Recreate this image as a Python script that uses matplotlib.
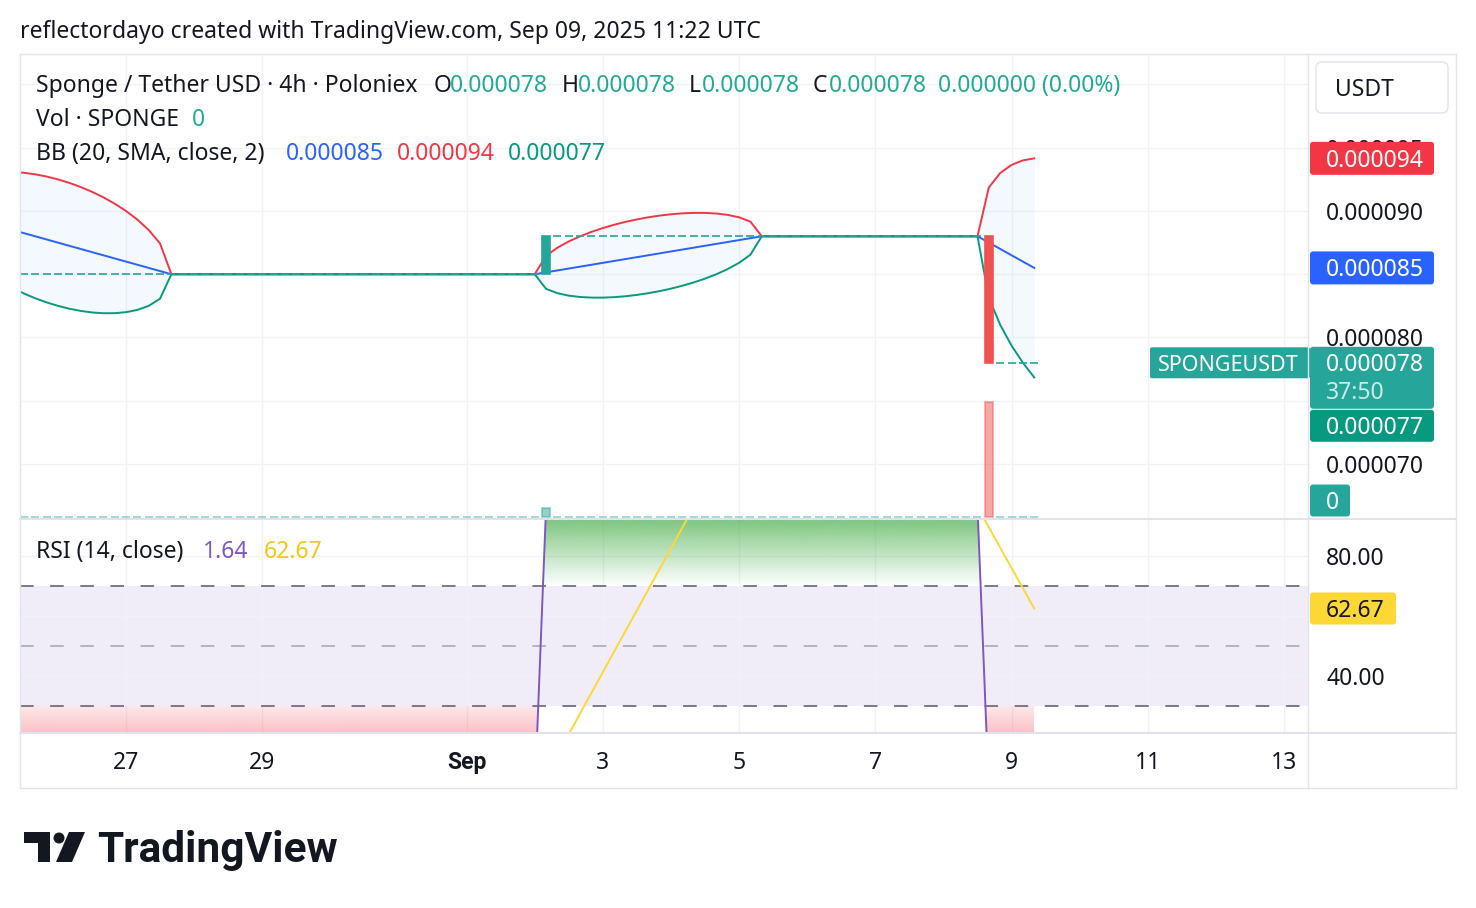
import numpy as np
import pandas as pd
import matplotlib
matplotlib.use("Agg")
import matplotlib.pyplot as plt
import matplotlib.dates as mdates
from matplotlib.patches import FancyBboxPatch, Polygon, Circle
from matplotlib.transforms import IdentityTransform
from matplotlib.lines import Line2D

plt.rcParams['font.family'] = ['Noto Sans', 'DejaVu Sans']

# ---------------- data ----------------
bar_first = '2025-08-20 00:00'          # first 4h bar used (history before the visible window)
bar_last = '2025-09-09 08:00'           # last 4h bar
# price regimes: each entry starts a new flat level (the first bar of a regime moves from the previous close)
regime_start = ['2025-08-20 00:00', '2025-08-21 00:00', '2025-08-24 12:00', '2025-09-02 04:00', '2025-09-08 16:00']
regime_close = [0.000092, 0.000090, 0.000085, 0.000088, 0.000078]
# traded volume (all other bars have zero volume)
volume_time = ['2025-08-21 00:00', '2025-08-24 12:00', '2025-09-02 04:00', '2025-09-08 16:00']
volume_value = [3000, 6000, 1000, 12800]

price_ticks = [0.000070, 0.000075, 0.000080, 0.000085, 0.000090, 0.000095, 0.000100]
price_tick_labels = ['0.000070', '', '0.000080', '', '0.000090', '0.000095', '']   # others hidden under labels
rsi_ticks = [40, 60, 80]
rsi_tick_labels = ['40.00', '', '80.00']
date_ticks = ['2025-08-27', '2025-08-29', '2025-09-01', '2025-09-03', '2025-09-05',
              '2025-09-07', '2025-09-09', '2025-09-11', '2025-09-13']
date_labels = ['27', '29', 'Sep', '3', '5', '7', '9', '11', '13']

title = 'reflectordayo created with TradingView.com, Sep 09, 2025 11:22 UTC'
symbol = 'Sponge / Tether USD · 4h · Poloniex'
ohlc_text = ['0.000078', '0.000078', '0.000078', '0.000078']
change_text = '0.000000 (0.00%)'
vol_text = '0'
bb_text = ['0.000085', '0.000094', '0.000077']
rsi_text = ['1.64', '62.67']
last_price_text = '0.000078'
countdown_text = '37:50'

# ---------------- build series ----------------
times = pd.date_range(bar_first, bar_last, freq='4h')
starts = pd.to_datetime(regime_start)
idx = np.searchsorted(starts.values, times.values, side='right') - 1
closes = np.array(regime_close)[idx]
opens = np.concatenate([[closes[0]], closes[:-1]])
vols = np.zeros(len(times))
for t, v in zip(pd.to_datetime(volume_time), volume_value):
    vols[times.get_loc(t)] = v
x = mdates.date2num(times.to_pydatetime())

c = pd.Series(closes)
basis = c.rolling(20).mean().values
dev = c.rolling(20).std(ddof=0).values
upper = basis + 2 * dev
lower = basis - 2 * dev

delta = c.diff().fillna(0.0)
up = delta.clip(lower=0).ewm(alpha=1 / 14, adjust=False).mean().values
dn = (-delta.clip(upper=0)).ewm(alpha=1 / 14, adjust=False).mean().values
with np.errstate(divide='ignore', invalid='ignore'):
    rsi = np.where(dn == 0, 100.0, np.where(up == 0, 0.0, 100 - 100 / (1 + up / dn)))
rsi[:14] = np.nan
rsi_ma = pd.Series(rsi).rolling(14).mean().values

# ---------------- figure / layout ----------------
W, H = 1476, 908
fig = plt.figure(figsize=(W / 100, H / 100), dpi=100, facecolor='white')
FS = 16.5
DARK = '#131722'
TEAL = '#22ab94'
UPC = '#26a69a'
DNC = '#ef5350'
GRID = '#f0f2f6'
BORDER = '#e0e3eb'

def rect(px0, py0, px1, py1):
    return [px0 / W, (H - py1) / H, (px1 - px0) / W, (py1 - py0) / H]

ax_v = fig.add_axes(rect(20, 54, 1308, 518))
ax = fig.add_axes(rect(20, 54, 1308, 518))
ax_r = fig.add_axes(rect(20, 519, 1308, 733))
ax.set_facecolor('none')
ax_v.set_facecolor('white')

d0 = mdates.date2num(pd.Timestamp('2025-08-27'))
xl = (d0 - 1.556, d0 + 17.352)
tick_x = mdates.date2num(pd.to_datetime(date_ticks).to_pydatetime())
for a in (ax, ax_v, ax_r):
    a.set_xlim(*xl)
    for s in a.spines.values():
        s.set_visible(False)

# main price pane limits
ax.set_ylim(0.00006573, 0.00010241)

# grid of the price pane (drawn in the bottom layer, under the volume bars)
ax_v.set_xticks(tick_x)
ax_v.set_yticks([])
ax_v.tick_params(axis='x', length=0, labelbottom=False)
ax_v.grid(True, axis='x', color=GRID, lw=1.0, zorder=0)
ax_v.set_axisbelow(True)
for v in price_ticks:
    ax_v.add_line(Line2D([xl[0], xl[1]], [v, v], transform=ax.transData, color=GRID, lw=1.0, zorder=0))

# volume
vmax = max(volume_value)
ax_v.set_ylim(-vmax * 1.5 / 115, vmax * 462.5 / 115)
vcol = [UPC if cl >= op else DNC for op, cl in zip(opens, closes)]
bw = 8 / 68.12
ax_v.bar(x, vols, width=bw, color=vcol, edgecolor=vcol, linewidth=1.2, alpha=0.5, zorder=2)

# price pane content
ax.fill_between(x, lower, upper, color='#2196f3', alpha=0.05, linewidth=0, zorder=1)
ax.plot(x, basis, color='#2962ff', lw=1.4, zorder=2)
ax.plot(x, upper, color='#f23645', lw=1.4, zorder=2)
ax.plot(x, lower, color='#089981', lw=1.4, zorder=2)
ccol = [UPC if cl >= op else DNC for op, cl in zip(opens, closes)]
ax.bar(x, closes - opens, bottom=opens, width=bw, color=ccol, edgecolor=ccol, linewidth=1.2, zorder=3)

ax.set_yticks(price_ticks)
ax.set_yticklabels(price_tick_labels)
ax.yaxis.tick_right()
ax.tick_params(axis='y', length=0, pad=13, labelsize=FS, labelcolor=DARK)
ax.set_xticks(tick_x)
ax.tick_params(axis='x', length=0, labelbottom=False)
ax.grid(False)

# RSI pane
ax_r.set_ylim(21.0, 92.33)
ax_r.axhspan(30, 70, color='#7e57c2', alpha=0.1, lw=0, zorder=0.5)
ax_r.axhline(70, color='#787b86', lw=1.4, dashes=(7, 8.5), zorder=1)
ax_r.axhline(30, color='#787b86', lw=1.4, dashes=(7, 8.5), zorder=1)
ax_r.axhline(50, color='#787b86', alpha=0.5, lw=1.4, dashes=(7, 8.5), zorder=1)

def gradient_fill(a, base, lo, hi, a_lo, a_hi, rgb, where):
    coll = a.fill_between(x, base, np.nan_to_num(rsi, nan=base), where=where,
                          interpolate=True, facecolor='none', edgecolor='none')
    n = 256
    img = np.zeros((n, 1, 4))
    img[..., :3] = rgb
    img[..., 3] = np.linspace(a_lo, a_hi, n)[:, None]
    for p in coll.get_paths():
        im = a.imshow(img, extent=[x[0], x[-1], lo, hi], origin='lower', aspect='auto',
                      interpolation='bilinear', zorder=1.5)
        im.set_clip_path(p, transform=a.transData)

valid = ~np.isnan(rsi)
gradient_fill(ax_r, 70, 70, 100, 0.0, 0.975, (76 / 255, 175 / 255, 80 / 255), valid & (rsi > 70))
gradient_fill(ax_r, 30, 0, 30, 0.78, 0.11, (242 / 255, 54 / 255, 69 / 255), valid & (rsi < 30))
ax_r.set_xlim(*xl)
ax_r.set_ylim(21.0, 92.33)
ax_r.plot(x, rsi, color='#7e57c2', lw=1.4, zorder=3)
ax_r.plot(x, rsi_ma, color='#fdd835', lw=1.4, zorder=3)

ax_r.set_yticks(rsi_ticks)
ax_r.set_yticklabels(rsi_tick_labels)
ax_r.yaxis.tick_right()
ax_r.tick_params(axis='y', length=0, pad=13, labelsize=FS, labelcolor=DARK)
ax_r.set_xticks(tick_x)
ax_r.set_xticklabels(date_labels)
ax_r.tick_params(axis='x', length=0, pad=13, labelsize=FS, labelcolor=DARK)
for lab in ax_r.get_xticklabels():
    if lab.get_text() == 'Sep':
        lab.set_fontweight('bold')
        lab.set_fontfamily(['Roboto', 'DejaVu Sans'])
ax_r.grid(True, color=GRID, lw=1.0, zorder=0)
ax_r.set_axisbelow(True)

# ---------------- figure-level decorations ----------------
ID = IdentityTransform()

def ptext(px, py, s, color=DARK, size=FS, weight='normal', va='center', family=None):
    kw = {}
    if family is not None:
        kw['family'] = family
    return fig.text(px, H - py - 1.5, s, transform=ID, color=color, fontsize=size,
                    fontweight=weight, ha='left', va=va, **kw)

def line(px0, py0, px1, py1, color=BORDER, lw=1.0):
    fig.add_artist(Line2D([px0, px1], [H - py0, H - py1], transform=ID, color=color, lw=lw))

def box(px0, py0, px1, py1, fc, ec='none', r=3):
    fig.add_artist(FancyBboxPatch((px0, H - py1), px1 - px0, py1 - py0,
                                  boxstyle=f'round,pad=0,rounding_size={r}',
                                  transform=ID, fc=fc, ec=ec, lw=1.0))

def ypix(a, v):
    return H - a.transData.transform((xl[0], v))[1]

# borders
line(20, 54, 1456, 54); line(20, 788, 1456, 788)
line(20, 54, 20, 788); line(1456, 54, 1456, 788)
line(1308, 54, 1308, 788)
line(20, 519, 1456, 519, lw=1.5)
line(20, 733, 1456, 733, lw=1.5)

# title
ptext(20, 31, title)

# legends
ptext(36, 85, symbol)
for lab, xo, xv, val in zip(['O', 'H', 'L', 'C'], [434, 562, 689, 813], [450, 578, 702, 829], ohlc_text):
    ptext(xo, 85, lab)
    ptext(xv, 85, val, color=TEAL)
ptext(938, 85, change_text, color=TEAL)
ptext(36, 119, 'Vol · SPONGE')
ptext(192, 119, vol_text, color=TEAL)
ptext(36, 153, 'BB (20, SMA, close, 2)')
for xv, val, col in zip([286, 397, 508], bb_text, ['#2962ff', '#f23645', '#089981']):
    ptext(xv, 153, val, color=col)
ptext(36, 551, 'RSI (14, close)')
ptext(203, 551, rsi_text[0], color='#7e57c2')
ptext(264, 551, rsi_text[1], color='#f5c518')

# USDT box
box(1316, 62, 1448, 113, 'white', ec=BORDER, r=6)
ptext(1335, 88, 'USDT')

# price scale labels
yu = ypix(ax, upper[-1])
box(1310, yu - 16.5, 1434, yu + 16.5, '#f23645')
ptext(1326, yu + 1, bb_text[1], color='white')
yb = ypix(ax, basis[-1])
box(1310, yb - 16.5, 1434, yb + 16.5, '#2962ff')
ptext(1326, yb + 1, bb_text[0], color='white')
yc = ypix(ax, closes[-1])
box(1150, yc - 15.5, 1310, yc + 15.5, UPC, r=2)
ptext(1158, yc + 1, 'SPONGEUSDT', color='white', size=15.5)
box(1310, yc - 16, 1434, yc + 46, UPC)
ptext(1326, yc + 1, last_price_text, color='white')
ptext(1326, yc + 29, countdown_text, color='#cdece8')
box(1310, yc + 47, 1434, yc + 79, '#089981')
ptext(1326, yc + 64, bb_text[2], color='white')
yv = H - ax_v.transData.transform((xl[0], 0))[1]
box(1310, yv - 32, 1350, yv, UPC)
ptext(1326, yv - 15, vol_text, color='white')
ym = ypix(ax_r, rsi_ma[-1])
box(1310, ym - 16, 1396, ym + 16, '#fdd835')
ptext(1326, ym + 1, rsi_text[1], color=DARK)

# TradingView logo
fig.add_artist(Polygon([(24, H - 832), (50, H - 832), (50, H - 862), (38, H - 862), (38, H - 843), (24, H - 843)],
                       closed=True, transform=ID, fc=DARK, ec='none'))
fig.add_artist(Circle((59, H - 838), 5.5, transform=ID, fc=DARK, ec='none'))
fig.add_artist(Polygon([(69, H - 832), (85, H - 832), (72, H - 862), (56, H - 862)],
                       closed=True, transform=ID, fc=DARK, ec='none'))
fig.text(97, H - 862, 'TradingView', transform=ID, color=DARK, fontsize=30.5, fontweight='bold',
         ha='left', va='baseline', family=['Roboto', 'DejaVu Sans'])

fig.savefig('out.png', dpi=100, facecolor='white')
